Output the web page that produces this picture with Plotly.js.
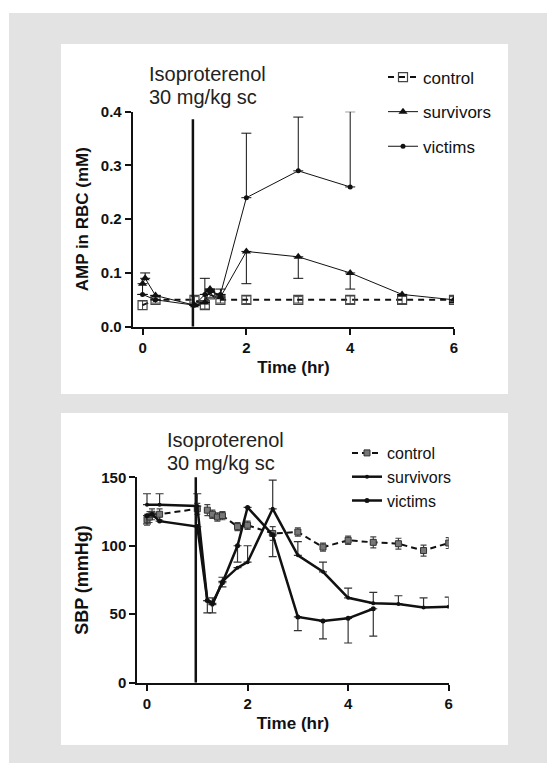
<!DOCTYPE html>
<html>
<head>
<meta charset="utf-8">
<script src="https://cdn.plot.ly/plotly-3.0.1.min.js"></script>
<style>html,body{margin:0;padding:0;background:#fff;}#chart{width:547px;height:763px;}</style>
</head>
<body>
<div id="chart"></div>
<script>
// ---------- Panel A: AMP in RBC (mM) ----------
const ampControlTime = [0, 0.25, 1, 1.2, 1.3, 1.5, 2, 3, 4, 5, 6];
const ampControl     = [0.04, 0.05, 0.05, 0.04, 0.06, 0.05, 0.05, 0.05, 0.05, 0.05, 0.05];
const ampControlErr  = [0.008, 0.006, 0.006, 0.007, 0.006, 0.006, 0.007, 0.006, 0.007, 0.007, 0.006];

const ampSurvTime     = [0, 0.05, 0.25, 1, 1.2, 1.3, 1.5, 2, 3, 4, 5, 6];
const ampSurvivors    = [0.08, 0.09, 0.058, 0.04, 0.045, 0.07, 0.055, 0.14, 0.13, 0.10, 0.06, 0.05];
const ampSurvErrUp    = [0, 0.01, 0, 0, 0.045, 0, 0.015, 0, 0, 0, 0, 0];
const ampSurvErrDown  = [0.02, 0, 0, 0, 0, 0, 0, 0.06, 0.04, 0.03, 0, 0.005];

const ampVictTime     = [0, 0.25, 1, 1.2, 1.3, 1.5, 2, 3, 4];
const ampVictims      = [0.06, 0.05, 0.04, 0.06, 0.065, 0.06, 0.24, 0.29, 0.26];
const ampVictErrUp    = [0, 0, 0, 0, 0, 0, 0.12, 0.10, 0.14];

// ---------- Panel B: SBP (mmHg) ----------
const sbpControlTime = [0, 0.05, 0.1, 0.25, 1, 1.2, 1.3, 1.4, 1.5, 1.8, 2, 2.5, 3, 3.5, 4, 4.5, 5, 5.5, 6];
const sbpControl     = [119, 121, 123, 123, 127, 126, 123, 121, 122, 114, 115, 109, 110, 99, 104, 102.5, 101.5, 96.5, 102];
const sbpControlErr  = [4, 4, 4, 4, 4, 4, 3, 3, 3, 3, 3, 5, 3, 3, 3, 4, 4, 4, 4];

const sbpSurvTime    = [0, 0.25, 1, 1.2, 1.3, 1.5, 1.8, 2, 2.5, 3, 3.5, 4, 4.5, 5, 5.5, 6];
const sbpSurvivors   = [130, 130, 129, 60, 57, 74, 84, 88, 127, 93, 81, 62, 58, 57.5, 55, 55.5];
const sbpSurvErrUp   = [8, 8, 9, 0, 5, 3, 0, 12, 21, 10, 7, 7, 8, 6, 7, 7];

const sbpVictTime    = [0, 0.1, 0.25, 1, 1.2, 1.3, 1.5, 1.8, 2, 2.5, 3, 3.5, 4, 4.5];
const sbpVictims     = [122, 123, 118, 114, 60, 58, 73, 100, 128, 108, 48, 45, 47, 54];
const sbpVictErrDown = [6, 0, 0, 0, 9, 7, 3, 12, 0, 16, 10, 13, 18, 20];

const seriesNames = ['control', 'survivors', 'victims'];
const injectionTime = 0.97;
const injectionLines = ['Isoproterenol', '30 mg/kg sc'];
const ampTicks = [0, 0.1, 0.2, 0.3, 0.4];
const sbpTicks = [0, 50, 100, 150];
const timeTicks = [0, 2, 4, 6];

const zeros = n => new Array(n).fill(0);
const F = 'Liberation Sans, Arial, sans-serif';
const INK = '#111';

const traces = [
  {x: ampControlTime, y: ampControl, name: seriesNames[0], xaxis: 'x', yaxis: 'y', legend: 'legend',
   legendgroup: 'a1', mode: 'lines+markers',
   line: {color: INK, width: 2, dash: '6px,5px'},
   marker: {symbol: 'square-open', size: 9, color: '#444', line: {width: 1.2}},
   error_y: {type: 'data', array: ampControlErr, symmetric: true, color: '#444', thickness: 1, width: 4}},
  {x: ampSurvTime, y: ampSurvivors, name: seriesNames[1], xaxis: 'x', yaxis: 'y', legend: 'legend',
   legendgroup: 'a2', mode: 'lines+markers',
   line: {color: INK, width: 1},
   marker: {symbol: 'triangle-up', size: 8, color: INK},
   error_y: {type: 'data', array: ampSurvErrUp, arrayminus: ampSurvErrDown, symmetric: false, color: INK, thickness: 1, width: 5}},
  {x: ampVictTime, y: ampVictims, name: seriesNames[2], xaxis: 'x', yaxis: 'y', legend: 'legend',
   legendgroup: 'a3', mode: 'lines+markers',
   line: {color: INK, width: 1},
   marker: {symbol: 'circle', size: 5, color: INK},
   error_y: {type: 'data', array: ampVictErrUp, arrayminus: zeros(ampVictTime.length), symmetric: false, color: INK, thickness: 1, width: 5}},

  {x: sbpControlTime, y: sbpControl, name: seriesNames[0], xaxis: 'x2', yaxis: 'y2', legend: 'legend2',
   mode: 'lines+markers',
   line: {color: INK, width: 2, dash: '6px,4px'},
   marker: {symbol: 'square', size: 6, color: '#777', line: {color: '#333', width: 1}},
   error_y: {type: 'data', array: sbpControlErr, symmetric: true, color: '#444', thickness: 1.2, width: 3}},
  {x: sbpSurvTime, y: sbpSurvivors, name: seriesNames[1], xaxis: 'x2', yaxis: 'y2', legend: 'legend2',
   mode: 'lines+markers',
   line: {color: INK, width: 2.5},
   marker: {symbol: 'circle', size: 4, color: INK},
   error_y: {type: 'data', array: sbpSurvErrUp, arrayminus: zeros(sbpSurvTime.length), symmetric: false, color: '#333', thickness: 1.2, width: 4}},
  {x: sbpVictTime, y: sbpVictims, name: seriesNames[2], xaxis: 'x2', yaxis: 'y2', legend: 'legend2',
   mode: 'lines+markers',
   line: {color: INK, width: 2.5},
   marker: {symbol: 'circle', size: 5, color: INK},
   error_y: {type: 'data', array: zeros(sbpVictTime.length), arrayminus: sbpVictErrDown, symmetric: false, color: '#333', thickness: 1.2, width: 4}}
];

const axisCommon = {
  showgrid: false, zeroline: false, showline: true, linecolor: INK, linewidth: 2,
  ticks: 'outside', ticklen: 6, tickwidth: 2, tickcolor: INK,
  tickfont: {family: F, size: 15, color: INK, weight: 'bold'},
  fixedrange: true
};
const titleFont = {family: F, size: 17, color: INK, weight: 'bold'};

function labelAnnotations(xPx, yPxs) {
  return injectionLines.map((t, i) => ({
    xref: 'paper', yref: 'paper', x: xPx/547, y: 1 - yPxs[i]/763, xanchor: 'left', yanchor: 'middle',
    text: t, showarrow: false, align: 'left', font: {family: F, size: 20, color: '#222'}
  }));
}

const layout = {
  width: 547, height: 763,
  margin: {l: 0, r: 0, t: 0, b: 0},
  paper_bgcolor: '#ffffff',
  plot_bgcolor: 'rgba(0,0,0,0)',
  showlegend: true,
  xaxis: Object.assign({}, axisCommon, {
    domain: [132.7/547, 454/547], range: [-0.19, 6], anchor: 'y',
    tickvals: timeTicks, ticktext: timeTicks.map(String),
    title: {text: 'Time (hr)', font: titleFont, standoff: 6}
  }),
  yaxis: Object.assign({}, axisCommon, {
    domain: [(763-326.7)/763, (763-111.7)/763], range: [0, 0.4], anchor: 'x',
    tickvals: ampTicks, ticktext: ampTicks.map(v => v.toFixed(1)),
    title: {text: 'AMP in RBC (mM)', font: titleFont, standoff: 8}
  }),
  xaxis2: Object.assign({}, axisCommon, {
    domain: [137.3/547, 448.7/547], range: [-0.193, 6], anchor: 'y2',
    tickvals: timeTicks, ticktext: timeTicks.map(String),
    title: {text: 'Time (hr)', font: titleFont, standoff: 6}
  }),
  yaxis2: Object.assign({}, axisCommon, {
    domain: [(763-682.7)/763, (763-477.3)/763], range: [0, 150], anchor: 'x2',
    tickvals: sbpTicks, ticktext: sbpTicks.map(String),
    title: {text: 'SBP (mmHg)', font: {family: F, size: 18, color: INK, weight: 'bold'}, standoff: 8}
  }),
  legend: {
    x: 383/547, y: 1 - 59.5/763, xanchor: 'left', yanchor: 'top',
    bgcolor: 'rgba(0,0,0,0)', font: {family: F, size: 17, color: INK},
    tracegroupgap: 9.5, itemwidth: 30
  },
  legend2: {
    x: 347/547, y: 1 - 436/763, xanchor: 'left', yanchor: 'top',
    bgcolor: 'rgba(0,0,0,0)', font: {family: F, size: 16, color: INK},
    tracegroupgap: 0, itemwidth: 30
  },
  shapes: [
    {type: 'rect', xref: 'paper', yref: 'paper', x0: 9/547, x1: 1, y0: 0, y1: 1 - 13/763,
     fillcolor: '#e3e3e3', line: {width: 0}, layer: 'below'},
    {type: 'rect', xref: 'paper', yref: 'paper', x0: 61/547, x1: 508/547, y0: 1 - 394/763, y1: 1 - 44/763,
     fillcolor: '#ffffff', line: {width: 0}, layer: 'below'},
    {type: 'rect', xref: 'paper', yref: 'paper', x0: 61/547, x1: 508/547, y0: 1 - 745/763, y1: 1 - 413/763,
     fillcolor: '#ffffff', line: {width: 0}, layer: 'below'},
    {type: 'line', xref: 'x', yref: 'y', x0: injectionTime, x1: injectionTime, y0: 0, y1: 0.386,
     line: {color: INK, width: 2.5}},
    {type: 'line', xref: 'x2', yref: 'y2', x0: injectionTime, x1: injectionTime, y0: 0, y1: 151,
     line: {color: INK, width: 2.5}}
  ],
  annotations: labelAnnotations(147, [74, 97]).concat(labelAnnotations(165, [440, 463]))
};

Plotly.newPlot('chart', traces, layout, {staticPlot: true, displayModeBar: false});
</script>
</body>
</html>
